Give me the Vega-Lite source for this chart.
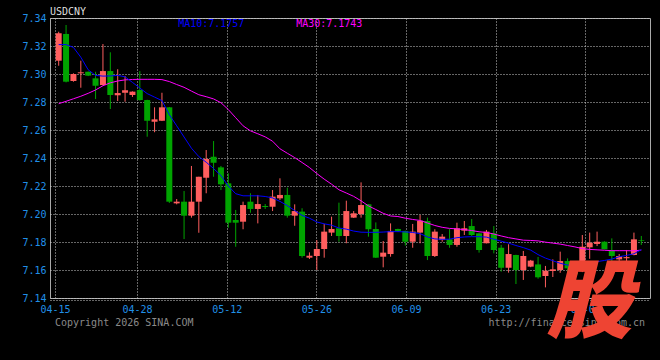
{
  "$schema": "https://vega.github.io/schema/vega-lite/v6.json",
  "width": 600,
  "height": 280,
  "autosize": {"type": "none"},
  "padding": {"left": 50, "top": 18, "right": 10, "bottom": 62},
  "background": "#000000",
  "title": {"text": "USDCNY", "anchor": "start", "frame": "group", "offset": 3, "dy": 7, "fontSize": 10, "font": "DejaVu Sans Mono", "fontWeight": "normal", "color": "#dddddd"},
  "config": {
    "view": {"stroke": "#aaaaaa", "strokeWidth": 1},
    "axis": {"labelFont": "DejaVu Sans Mono", "labelFontSize": 10, "labelColor": "#2090e8", "gridColor": "#cccccc", "gridDash": [1, 2], "gridWidth": 1, "ticks": false, "labelPadding": 4}
  },
  "datasets": {
    "k": [
      {"i":0,"date":"04-15","o":7.3095,"h":7.3302,"l":7.3059,"c":7.3291,"ma10":7.3210,"ma30":7.2788},
      {"i":1,"date":"04-16","o":7.3286,"h":7.3350,"l":7.2940,"c":7.2945,"ma10":7.3210,"ma30":7.2805},
      {"i":2,"date":"04-17","o":7.2950,"h":7.3005,"l":7.2945,"c":7.3000,"ma10":7.3190,"ma30":7.2823},
      {"i":3,"date":"04-18","o":7.3005,"h":7.3095,"l":7.2902,"c":7.3012,"ma10":7.3120,"ma30":7.2841},
      {"i":4,"date":"04-20","o":7.3016,"h":7.3018,"l":7.2985,"c":7.2988,"ma10":7.3030,"ma30":7.2862},
      {"i":5,"date":"04-21","o":7.2969,"h":7.3016,"l":7.2821,"c":7.2916,"ma10":7.2990,"ma30":7.2886},
      {"i":6,"date":"04-22","o":7.2921,"h":7.3214,"l":7.2918,"c":7.3021,"ma10":7.2985,"ma30":7.2916},
      {"i":7,"date":"04-23","o":7.3021,"h":7.3155,"l":7.2750,"c":7.2850,"ma10":7.2986,"ma30":7.2937},
      {"i":8,"date":"04-24","o":7.2848,"h":7.3034,"l":7.2807,"c":7.2864,"ma10":7.2990,"ma30":7.2950},
      {"i":9,"date":"04-25","o":7.2866,"h":7.2986,"l":7.2802,"c":7.2884,"ma10":7.2980,"ma30":7.2958},
      {"i":10,"date":"04-27","o":7.2850,"h":7.2876,"l":7.2836,"c":7.2874,"ma10":7.2940,"ma30":7.2961},
      {"i":11,"date":"04-28","o":7.2886,"h":7.3021,"l":7.2810,"c":7.2814,"ma10":7.2900,"ma30":7.2962},
      {"i":12,"date":"04-29","o":7.2814,"h":7.2816,"l":7.2552,"c":7.2666,"ma10":7.2860,"ma30":7.2962},
      {"i":13,"date":"04-30","o":7.2659,"h":7.2762,"l":7.2584,"c":7.2676,"ma10":7.2835,"ma30":7.2962},
      {"i":14,"date":"05-01","o":7.2666,"h":7.2866,"l":7.2664,"c":7.2762,"ma10":7.2810,"ma30":7.2960},
      {"i":15,"date":"05-02","o":7.2762,"h":7.2764,"l":7.2079,"c":7.2088,"ma10":7.2710,"ma30":7.2946},
      {"i":16,"date":"05-04","o":7.2076,"h":7.2107,"l":7.2069,"c":7.2088,"ma10":7.2630,"ma30":7.2925},
      {"i":17,"date":"05-05","o":7.2088,"h":7.2164,"l":7.1821,"c":7.1988,"ma10":7.2550,"ma30":7.2905},
      {"i":18,"date":"05-06","o":7.1988,"h":7.2343,"l":7.1974,"c":7.2088,"ma10":7.2470,"ma30":7.2878},
      {"i":19,"date":"05-07","o":7.2088,"h":7.2266,"l":7.1866,"c":7.2266,"ma10":7.2410,"ma30":7.2852},
      {"i":20,"date":"05-08","o":7.2259,"h":7.2457,"l":7.2148,"c":7.2393,"ma10":7.2370,"ma30":7.2838},
      {"i":21,"date":"05-09","o":7.2409,"h":7.2521,"l":7.2266,"c":7.2366,"ma10":7.2325,"ma30":7.2822},
      {"i":22,"date":"05-11","o":7.2333,"h":7.2343,"l":7.2171,"c":7.2212,"ma10":7.2275,"ma30":7.2795},
      {"i":23,"date":"05-12","o":7.2219,"h":7.2291,"l":7.1902,"c":7.1938,"ma10":7.2200,"ma30":7.2746},
      {"i":24,"date":"05-13","o":7.1957,"h":7.2029,"l":7.1766,"c":7.1938,"ma10":7.2145,"ma30":7.2688},
      {"i":25,"date":"05-14","o":7.1945,"h":7.2088,"l":7.1891,"c":7.2064,"ma10":7.2130,"ma30":7.2630},
      {"i":26,"date":"05-15","o":7.2088,"h":7.2148,"l":7.2009,"c":7.2036,"ma10":7.2130,"ma30":7.2594},
      {"i":27,"date":"05-16","o":7.2036,"h":7.2136,"l":7.1933,"c":7.2071,"ma10":7.2130,"ma30":7.2573},
      {"i":28,"date":"05-18","o":7.2057,"h":7.2071,"l":7.2036,"c":7.2050,"ma10":7.2125,"ma30":7.2551},
      {"i":29,"date":"05-19","o":7.2052,"h":7.2171,"l":7.2021,"c":7.2124,"ma10":7.2115,"ma30":7.2520},
      {"i":30,"date":"05-20","o":7.2112,"h":7.2255,"l":7.2100,"c":7.2136,"ma10":7.2090,"ma30":7.2466},
      {"i":31,"date":"05-21","o":7.2136,"h":7.2188,"l":7.1974,"c":7.1988,"ma10":7.2060,"ma30":7.2434},
      {"i":32,"date":"05-22","o":7.1988,"h":7.2069,"l":7.1916,"c":7.2021,"ma10":7.2025,"ma30":7.2403},
      {"i":33,"date":"05-23","o":7.2017,"h":7.2041,"l":7.1688,"c":7.1700,"ma10":7.1990,"ma30":7.2368},
      {"i":34,"date":"05-25","o":7.1688,"h":7.1726,"l":7.1679,"c":7.1702,"ma10":7.1970,"ma30":7.2332},
      {"i":35,"date":"05-26","o":7.1700,"h":7.1814,"l":7.1600,"c":7.1750,"ma10":7.1943,"ma30":7.2289},
      {"i":36,"date":"05-27","o":7.1750,"h":7.1929,"l":7.1688,"c":7.1874,"ma10":7.1930,"ma30":7.2249},
      {"i":37,"date":"05-28","o":7.1867,"h":7.1981,"l":7.1843,"c":7.1893,"ma10":7.1920,"ma30":7.2213},
      {"i":38,"date":"05-29","o":7.1898,"h":7.2081,"l":7.1802,"c":7.1843,"ma10":7.1900,"ma30":7.2173},
      {"i":39,"date":"05-30","o":7.1843,"h":7.2095,"l":7.1791,"c":7.2021,"ma10":7.1892,"ma30":7.2150},
      {"i":40,"date":"06-01","o":7.1974,"h":7.2021,"l":7.1972,"c":7.2005,"ma10":7.1878,"ma30":7.2126},
      {"i":41,"date":"06-02","o":7.2000,"h":7.2226,"l":7.1974,"c":7.2064,"ma10":7.1870,"ma30":7.2094},
      {"i":42,"date":"06-03","o":7.2069,"h":7.2071,"l":7.1838,"c":7.1891,"ma10":7.1869,"ma30":7.2058},
      {"i":43,"date":"06-04","o":7.1893,"h":7.1940,"l":7.1686,"c":7.1688,"ma10":7.1869,"ma30":7.2032},
      {"i":44,"date":"06-05","o":7.1695,"h":7.1807,"l":7.1619,"c":7.1724,"ma10":7.1871,"ma30":7.2005},
      {"i":45,"date":"06-06","o":7.1714,"h":7.1933,"l":7.1695,"c":7.1879,"ma10":7.1874,"ma30":7.1986},
      {"i":46,"date":"06-08","o":7.1893,"h":7.1895,"l":7.1871,"c":7.1879,"ma10":7.1874,"ma30":7.1982},
      {"i":47,"date":"06-09","o":7.1879,"h":7.1881,"l":7.1774,"c":7.1802,"ma10":7.1872,"ma30":7.1970},
      {"i":48,"date":"06-10","o":7.1802,"h":7.1929,"l":7.1759,"c":7.1874,"ma10":7.1868,"ma30":7.1961},
      {"i":49,"date":"06-11","o":7.1867,"h":7.1993,"l":7.1791,"c":7.1952,"ma10":7.1860,"ma30":7.1954},
      {"i":50,"date":"06-12","o":7.1950,"h":7.1974,"l":7.1671,"c":7.1700,"ma10":7.1836,"ma30":7.1936},
      {"i":51,"date":"06-13","o":7.1700,"h":7.1891,"l":7.1693,"c":7.1874,"ma10":7.1822,"ma30":7.1918},
      {"i":52,"date":"06-15","o":7.1814,"h":7.1857,"l":7.1802,"c":7.1838,"ma10":7.1819,"ma30":7.1905},
      {"i":53,"date":"06-16","o":7.1819,"h":7.1893,"l":7.1759,"c":7.1779,"ma10":7.1820,"ma30":7.1897},
      {"i":54,"date":"06-17","o":7.1779,"h":7.1938,"l":7.1766,"c":7.1898,"ma10":7.1831,"ma30":7.1894},
      {"i":55,"date":"06-18","o":7.1881,"h":7.1950,"l":7.1850,"c":7.1898,"ma10":7.1836,"ma30":7.1888},
      {"i":56,"date":"06-19","o":7.1914,"h":7.1964,"l":7.1843,"c":7.1850,"ma10":7.1838,"ma30":7.1882},
      {"i":57,"date":"06-20","o":7.1862,"h":7.1864,"l":7.1724,"c":7.1743,"ma10":7.1838,"ma30":7.1873},
      {"i":58,"date":"06-22","o":7.1791,"h":7.1886,"l":7.1790,"c":7.1874,"ma10":7.1835,"ma30":7.1868},
      {"i":59,"date":"06-23","o":7.1862,"h":7.1914,"l":7.1719,"c":7.1743,"ma10":7.1820,"ma30":7.1857},
      {"i":60,"date":"06-24","o":7.1759,"h":7.1779,"l":7.1588,"c":7.1616,"ma10":7.1806,"ma30":7.1843},
      {"i":61,"date":"06-25","o":7.1616,"h":7.1784,"l":7.1581,"c":7.1714,"ma10":7.1792,"ma30":7.1831},
      {"i":62,"date":"06-26","o":7.1707,"h":7.1709,"l":7.1500,"c":7.1600,"ma10":7.1775,"ma30":7.1822},
      {"i":63,"date":"06-27","o":7.1600,"h":7.1736,"l":7.1529,"c":7.1700,"ma10":7.1760,"ma30":7.1813},
      {"i":64,"date":"06-29","o":7.1624,"h":7.1672,"l":7.1620,"c":7.1667,"ma10":7.1742,"ma30":7.1811},
      {"i":65,"date":"06-30","o":7.1640,"h":7.1693,"l":7.1538,"c":7.1548,"ma10":7.1710,"ma30":7.1808},
      {"i":66,"date":"07-01","o":7.1557,"h":7.1629,"l":7.1476,"c":7.1595,"ma10":7.1685,"ma30":7.1799},
      {"i":67,"date":"07-02","o":7.1593,"h":7.1676,"l":7.1550,"c":7.1605,"ma10":7.1666,"ma30":7.1792},
      {"i":68,"date":"07-03","o":7.1600,"h":7.1731,"l":7.1580,"c":7.1664,"ma10":7.1648,"ma30":7.1785},
      {"i":69,"date":"07-04","o":7.1664,"h":7.1683,"l":7.1580,"c":7.1612,"ma10":7.1635,"ma30":7.1775},
      {"i":70,"date":"07-06","o":7.1610,"h":7.1625,"l":7.1540,"c":7.1570,"ma10":7.1630,"ma30":7.1765},
      {"i":71,"date":"07-07","o":7.1590,"h":7.1850,"l":7.1585,"c":7.1766,"ma10":7.1632,"ma30":7.1753},
      {"i":72,"date":"07-08","o":7.1762,"h":7.1867,"l":7.1680,"c":7.1795,"ma10":7.1648,"ma30":7.1747},
      {"i":73,"date":"07-09","o":7.1786,"h":7.1874,"l":7.1771,"c":7.1802,"ma10":7.1660,"ma30":7.1744},
      {"i":74,"date":"07-10","o":7.1802,"h":7.1805,"l":7.1748,"c":7.1748,"ma10":7.1668,"ma30":7.1741},
      {"i":75,"date":"07-11","o":7.1738,"h":7.1826,"l":7.1640,"c":7.1700,"ma10":7.1678,"ma30":7.1738},
      {"i":76,"date":"07-13","o":7.1676,"h":7.1714,"l":7.1665,"c":7.1700,"ma10":7.1695,"ma30":7.1738},
      {"i":77,"date":"07-14","o":7.1684,"h":7.1743,"l":7.1660,"c":7.1692,"ma10":7.1704,"ma30":7.1738},
      {"i":78,"date":"07-15","o":7.1707,"h":7.1867,"l":7.1705,"c":7.1819,"ma10":7.1716,"ma30":7.1737},
      {"i":79,"date":"07-16","o":7.1812,"h":7.1843,"l":7.1779,"c":7.1807,"ma10":7.1745,"ma30":7.1742}
    ]
  },
  "layer": [
    {
      "data": {"name": "k"},
      "mark": {"type": "rule", "strokeWidth": 1},
      "encoding": {
        "x": {"field": "i", "type": "quantitative", "title": null,
          "scale": {"domain": [-0.5, 79.5], "nice": false, "zero": false},
          "axis": {"values": [-0.5, 10.62, 22.78, 34.94, 47.1, 59.25, 71.41], "tickCount": 7, "labelExpr": "datum.value < 0 ? '04-15' : datum.value < 15 ? '04-28' : datum.value < 28 ? '05-12' : datum.value < 40 ? '05-26' : datum.value < 52 ? '06-09' : datum.value < 65 ? '06-23' : '07-07'", "grid": true, "domain": true, "domainColor": "#cccccc", "domainDash": [1, 2], "offset": 2, "labelFlush": false, "labelBound": false, "labelOverlap": false, "title": null}},
        "y": {"field": "l", "type": "quantitative", "title": null,
          "scale": {"domain": [7.14, 7.34], "nice": false, "zero": false},
          "axis": {"values": [7.14, 7.16, 7.18, 7.2, 7.22, 7.24, 7.26, 7.28, 7.3, 7.32, 7.34], "tickCount": 11, "format": ".2f", "grid": true, "domain": false, "labelOverlap": false, "title": null}},
        "y2": {"field": "h"},
        "color": {"condition": {"test": "datum.c >= datum.o", "value": "#ff5e5e"}, "value": "#00a400"}
      }
    },
    {
      "data": {"name": "k"},
      "mark": {"type": "bar", "width": 6},
      "encoding": {
        "x": {"field": "i", "type": "quantitative", "title": null},
        "y": {"field": "o", "type": "quantitative", "title": null},
        "y2": {"field": "c"},
        "color": {"condition": {"test": "datum.c >= datum.o", "value": "#ff5e5e"}, "value": "#00a400"}
      }
    },
    {
      "data": {"name": "k"},
      "mark": {"type": "line", "color": "#ff00ff", "strokeWidth": 1},
      "encoding": {
        "x": {"field": "i", "type": "quantitative", "title": null},
        "y": {"field": "ma30", "type": "quantitative", "title": null}
      }
    },
    {
      "data": {"name": "k"},
      "mark": {"type": "line", "color": "#0000ff", "strokeWidth": 1},
      "encoding": {
        "x": {"field": "i", "type": "quantitative", "title": null},
        "y": {"field": "ma10", "type": "quantitative", "title": null}
      }
    },
    {
      "data": {"values": [{"i": 16.2, "p": 7.3357, "t": "MA10:7.1757"}]},
      "mark": {"type": "text", "align": "left", "baseline": "middle", "font": "DejaVu Sans Mono", "fontSize": 10, "color": "#0000ff"},
      "encoding": {
        "x": {"field": "i", "type": "quantitative", "title": null},
        "y": {"field": "p", "type": "quantitative", "title": null},
        "text": {"field": "t"}
      }
    },
    {
      "data": {"values": [{"i": 32.2, "p": 7.3357, "t": "MA30:7.1743"}]},
      "mark": {"type": "text", "align": "left", "baseline": "middle", "font": "DejaVu Sans Mono", "fontSize": 10, "color": "#ff00ff"},
      "encoding": {
        "x": {"field": "i", "type": "quantitative", "title": null},
        "y": {"field": "p", "type": "quantitative", "title": null},
        "text": {"field": "t"}
      }
    },
    {
      "data": {"values": [{"i": -0.5, "p": 7.1219, "t": "Copyright 2026 SINA.COM"}]},
      "mark": {"type": "text", "align": "left", "baseline": "middle", "font": "DejaVu Sans Mono", "fontSize": 10, "color": "#8a8a8a"},
      "encoding": {
        "x": {"field": "i", "type": "quantitative", "title": null},
        "y": {"field": "p", "type": "quantitative", "title": null},
        "text": {"field": "t"}
      }
    },
    {
      "data": {"values": [{"i": 79.5, "p": 7.1219, "t": "http://finance.sina.com.cn"}]},
      "mark": {"type": "text", "align": "right", "baseline": "middle", "font": "DejaVu Sans Mono", "fontSize": 10, "color": "#8a8a8a"},
      "encoding": {
        "x": {"field": "i", "type": "quantitative", "title": null},
        "y": {"field": "p", "type": "quantitative", "title": null},
        "text": {"field": "t"}
      }
    },
    {
      "data": {"values": [{"i": 71.95, "p": 7.135, "t": "股"}]},
      "mark": {"type": "text", "align": "center", "baseline": "middle", "font": "Noto Sans CJK SC", "fontSize": 86, "fontWeight": 900, "fontStyle": "italic", "color": "#ee4433"},
      "encoding": {
        "x": {"field": "i", "type": "quantitative", "title": null},
        "y": {"field": "p", "type": "quantitative", "title": null},
        "text": {"field": "t"}
      }
    }
  ]
}
